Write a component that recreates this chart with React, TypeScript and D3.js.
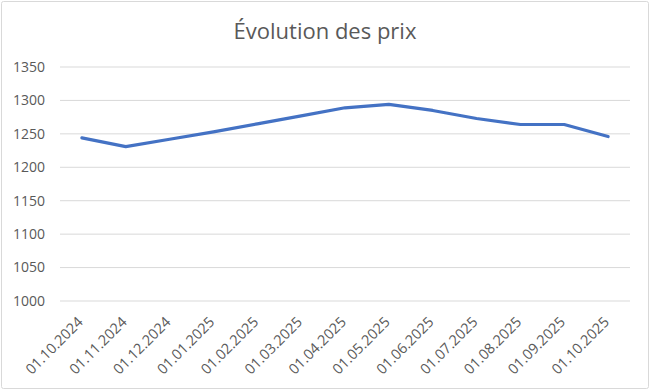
import React from "react";
import * as d3 from "d3";

const categories = [
  "01.10.2024", "01.11.2024", "01.12.2024", "01.01.2025", "01.02.2025",
  "01.03.2025", "01.04.2025", "01.05.2025", "01.06.2025", "01.07.2025",
  "01.08.2025", "01.09.2025", "01.10.2025",
];
const prices = [1244, 1231, 1242, 1253, 1265, 1277, 1289, 1294, 1285, 1273, 1264, 1264, 1246];
const yTicks = [1000, 1050, 1100, 1150, 1200, 1250, 1300, 1350];
const title = "Évolution des prix";

const W = 650, H = 390;
const left = 60, right = 630, top = 67, bottom = 301;
const FONT = "'Open Sans', 'Noto Sans', sans-serif";

export default function App() {
  const x = d3.scaleBand<string>().domain(categories).range([left, right]);
  const y = d3.scaleLinear().domain([1000, 1350]).range([bottom, top]);
  const cx = (c: string) => (x(c) as number) + x.bandwidth() / 2;
  const line = d3.line<number>()
    .x((_, i) => cx(categories[i]))
    .y((d) => y(d));

  return (
    <svg width={W} height={H} style={{ position: "absolute", left: 0, top: 0 }} xmlns="http://www.w3.org/2000/svg">
      <rect x={0} y={0} width={W} height={H} fill="#ffffff" />
      <rect x={1.5} y={1.5} width={W - 3} height={H - 3} fill="none" stroke="#d9d9d9" strokeWidth={1} rx={2} />
      <text x={325} y={39} textAnchor="middle" fontFamily={FONT} fontSize={22} fill="#595959">{title}</text>
      {yTicks.map((t) => (
        <g key={t}>
          <line x1={left} x2={right} y1={y(t)} y2={y(t)} stroke="#d9d9d9" strokeWidth={1} />
          <text x={45} y={y(t)} dy="0.35em" textAnchor="end" fontFamily={FONT} fontSize={14} fill="#595959">{t}</text>
        </g>
      ))}
      {categories.map((c) => (
        <text key={c} transform={`translate(${cx(c) + 2},${bottom + 22}) rotate(-45)`} textAnchor="end"
          fontFamily={FONT} fontSize={14.5} fill="#595959">{c}</text>
      ))}
      <path d={line(prices) as string} fill="none" stroke="#4472C4" strokeWidth={3.2} strokeLinejoin="round" strokeLinecap="round" />
    </svg>
  );
}
